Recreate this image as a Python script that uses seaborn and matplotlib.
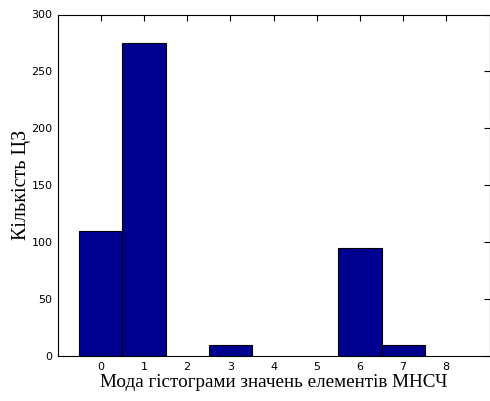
import matplotlib
matplotlib.use("Agg")
import matplotlib.pyplot as plt
import seaborn as sns
import pandas as pd

# Histogram-mode counts per bin
modes = [0, 1, 2, 3, 4, 5, 6, 7, 8]
counts = [110, 275, 0, 10, 0, 0, 95, 10, 0]
y_ticks = [0, 50, 100, 150, 200, 250, 300]

df = pd.DataFrame({"mode": modes, "count": counts})

sns.set_style("white")
plt.rcParams["font.family"] = ["DejaVu Sans"]

fig = plt.figure(figsize=(4.9, 4.01), dpi=100)
ax = fig.add_axes([57.5 / 490, 1 - 356 / 401, (489.5 - 57.5) / 490, (356 - 14.5) / 401])

sns.barplot(data=df, x="mode", y="count", order=modes, native_scale=True,
            color="#000090", saturation=1, width=1.0, edgecolor="black",
            linewidth=0.8, ax=ax)

# empty bins leave no outline
for p in ax.patches:
    if p.get_height() == 0:
        p.set_linewidth(0)

ax.set_xlim(-1, 9)
ax.set_ylim(0, 300)
ax.set_xticks(modes)
ax.set_xticklabels([str(m) for m in modes])
ax.set_yticks(y_ticks)
ax.set_yticklabels([str(t) for t in y_ticks])

for s in ax.spines.values():
    s.set_visible(True)
    s.set_color("black")
    s.set_linewidth(0.8)

ax.tick_params(direction="in", length=4, width=0.8, top=True, right=True,
               labelsize=8, colors="black", pad=4)
ax.tick_params(axis="y", pad=3.5)

ax.set_xlabel("Мода гістограми значень елементів МНСЧ",
              family=["Liberation Serif"], fontsize=13.8, labelpad=2,
              color="black")
ax.set_ylabel("Кількість ЦЗ", family=["Liberation Serif"], fontsize=14.5,
              labelpad=0.5, color="black")

fig.savefig("out.png", dpi=100)
